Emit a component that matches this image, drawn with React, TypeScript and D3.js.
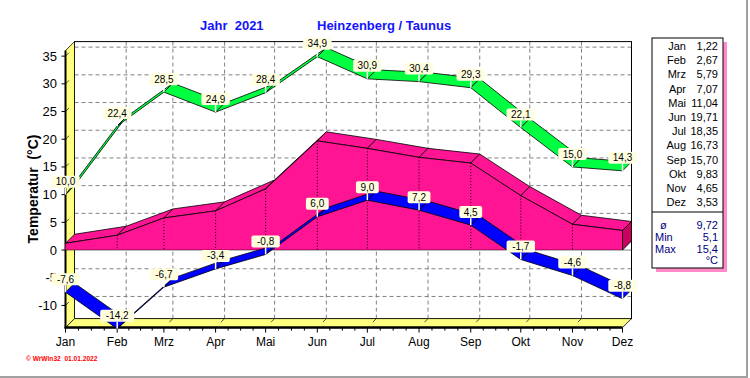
import React, { useEffect } from "react";
import * as d3 from "d3";

const MONTHS = ["Jan", "Feb", "Mrz", "Apr", "Mai", "Jun", "Jul", "Aug", "Sep", "Okt", "Nov", "Dez"];
const MONTH_DAY = [0, 31, 59, 90, 120, 151, 181, 212, 243, 273, 304, 334];
const MAX_T = [10.0, 22.4, 28.5, 24.9, 28.4, 34.9, 30.9, 30.4, 29.3, 22.1, 15.0, 14.3];
const MIN_T = [-7.6, -14.2, -6.7, -3.4, -0.8, 6.0, 9.0, 7.2, 4.5, -1.7, -4.6, -8.8];
const MEAN_T = [1.22, 2.67, 5.79, 7.07, 11.04, 19.71, 18.35, 16.73, 15.7, 9.83, 4.65, 3.53];
const Y_TICKS = [-10, -5, 0, 5, 10, 15, 20, 25, 30, 35];
const STAT_LABELS = ["ø", "Min", "Max"];
const STAT_VALUES = ["9,72", "5,1", "15,4"];

const DX = 9;
const DY = -9;

const fmt1 = (v: number) => v.toFixed(1).replace(".", ",");
const fmt2 = (v: number) => v.toFixed(2).replace(".", ",");

export default function App() {
  useEffect(() => {
    document.body.style.margin = "0";
  }, []);

  const x = d3.scaleLinear().domain([0, 334]).range([65.5, 622.5]);
  const y = d3.scaleLinear().domain([-14, 36]).range([327.6, 50.6]);

  const xl = x.range()[0];
  const xr = x.range()[1];
  const yb = y(-14);
  const yt = y(36);

  const pts = (vals: number[]) => vals.map((v, i) => [x(MONTH_DAY[i]), y(v)] as [number, number]);
  const poly = (p: [number, number][]) => p.map((q) => q.join(",")).join(" ");

  const ribbon = (vals: number[], fill: string, key: string) => {
    const p = pts(vals);
    const quads = [];
    for (let i = 0; i < p.length - 1; i++) {
      const a = p[i], b = p[i + 1];
      quads.push(
        <polygon
          key={key + i}
          points={poly([a, b, [b[0] + DX, b[1] + DY], [a[0] + DX, a[1] + DY]])}
          fill={fill}
          stroke="#000"
          strokeWidth={0.8}
          strokeLinejoin="round"
        />
      );
    }
    return <g>{quads}</g>;
  };

  // pink mean area
  const mp = pts(MEAN_T);
  const y0 = y(0);
  const meanTop = [];
  for (let i = 0; i < mp.length - 1; i++) {
    const a = mp[i], b = mp[i + 1];
    meanTop.push(
      <polygon
        key={"mt" + i}
        points={poly([a, b, [b[0] + DX, b[1] + DY], [a[0] + DX, a[1] + DY]])}
        fill="#ff1493"
        stroke="#000"
        strokeWidth={0.8}
      />
    );
  }
  const last = mp[mp.length - 1];
  const meanFront: [number, number][] = [...mp, [last[0], y0], [mp[0][0], y0]];
  const meanCap: [number, number][] = [
    last,
    [last[0] + DX, last[1] + DY],
    [last[0] + DX, y0 + DY],
    [last[0], y0],
  ];

  // minor ticks
  const minorTicks: number[] = [];
  for (let i = 0; i < MONTH_DAY.length - 1; i++) {
    const a = MONTH_DAY[i], b = MONTH_DAY[i + 1];
    for (let k = 1; k < 4; k++) minorTicks.push(a + ((b - a) * k) / 4);
  }

  const labelBox = (v: number, i: number, key: string) => {
    const px = x(MONTH_DAY[i]);
    const py = y(v);
    const t = fmt1(v);
    const w = t.length * 5.6 + 6;
    const h = 12;
    const cy = py - 13;
    return (
      <g key={key}>
        <line x1={px} x2={px} y1={cy + h / 2} y2={py} stroke="#fff" strokeWidth={1.5} />
        <rect x={px - w / 2} y={cy - h / 2} width={w} height={h} rx={2} fill="#ffffe0" />
        <text x={px} y={cy + 3.6} textAnchor="middle" fontSize={10} fill="#000">
          {t}
        </text>
      </g>
    );
  };

  const font = "Arial, 'Liberation Sans', sans-serif";

  return (
    <svg width={750} height={378} style={{ position: "absolute", left: 0, top: 0, display: "block" }} fontFamily={font}>
      <rect x={0} y={0} width={750} height={378} fill="#fff" />
      {/* outer frame */}
      <line x1={747} x2={747} y1={0} y2={377} stroke="#a0a0a0" strokeWidth={2} />
      <line x1={0} x2={748} y1={377} y2={377} stroke="#a0a0a0" strokeWidth={2} />

      {/* title */}
      <text x={200} y={30} fontSize={13} fontWeight="bold" fill="#1414ff" style={{ whiteSpace: "pre" }}>
        Jahr  2021
      </text>
      <text x={317} y={30} fontSize={13} fontWeight="bold" fill="#1414ff">
        Heinzenberg / Taunus
      </text>

      {/* y axis title */}
      <text
        transform={`translate(38,189) rotate(-90)`}
        textAnchor="middle"
        fontSize={14}
        fontWeight="bold"
        fill="#000"
        style={{ whiteSpace: "pre" }}
      >
        Temperatur  (°C)
      </text>

      {/* back wall */}
      <rect x={xl + DX} y={yt + DY} width={xr - xl} height={yb - yt} fill="#fff" />
      {Y_TICKS.map((v) => (
        <line key={"hg" + v} x1={xl + DX} x2={xr + DX} y1={y(v) + DY} y2={y(v) + DY} stroke="#808080" strokeDasharray="4,3" strokeWidth={1} />
      ))}
      {MONTH_DAY.slice(1, -1).map((d) => (
        <line key={"vg" + d} x1={x(d) + DX} x2={x(d) + DX} y1={yt + DY} y2={yb + DY} stroke="#808080" strokeDasharray="4,3" strokeWidth={1} />
      ))}
      <rect x={xl + DX} y={yt + DY} width={xr - xl} height={yb - yt} fill="none" stroke="#000" strokeWidth={1} />

      {/* left wall */}
      <polygon points={poly([[xl, yt], [xl + DX, yt + DY], [xl + DX, yb + DY], [xl, yb]])} fill="#ffff80" stroke="#000" strokeWidth={0.8} />
      {Y_TICKS.map((v) => (
        <line key={"lw" + v} x1={xl} x2={xl + 3.5} y1={y(v)} y2={y(v) - 3.5} stroke="#505050" strokeWidth={1} />
      ))}
      {/* floor */}
      <polygon points={poly([[xl, yb], [xr, yb], [xr + DX, yb + DY], [xl + DX, yb + DY]])} fill="#ffff80" stroke="#000" strokeWidth={0.8} />
      {MONTH_DAY.slice(1, -1).map((d) => (
        <line key={"fl" + d} x1={x(d) + DX} x2={x(d) + DX - 3.5} y1={yb + DY} y2={yb + DY + 3.5} stroke="#505050" strokeWidth={1} />
      ))}

      {/* front axes */}
      <line x1={xl} x2={xl} y1={yt} y2={yb + 1} stroke="#000" strokeWidth={2} />
      <line x1={xl - 1} x2={xr} y1={yb} y2={yb} stroke="#000" strokeWidth={2.5} />
      {Y_TICKS.map((v) => (
        <g key={"yt" + v}>
          <line x1={xl - 4} x2={xl} y1={y(v)} y2={y(v)} stroke="#000" strokeWidth={1} />
          <text x={57} y={y(v) + 4.5} textAnchor="end" fontSize={13} fill="#000">
            {v}
          </text>
        </g>
      ))}
      {MONTH_DAY.map((d, i) => (
        <g key={"xt" + d}>
          <line x1={x(d)} x2={x(d)} y1={yb} y2={yb + 5} stroke="#000" strokeWidth={1} />
          <text x={x(d)} y={346} textAnchor="middle" fontSize={12} fill="#000">
            {MONTHS[i]}
          </text>
        </g>
      ))}
      {minorTicks.map((d, i) => (
        <line key={"mt" + i} x1={x(d)} x2={x(d)} y1={yb} y2={yb + 3} stroke="#000" strokeWidth={1} />
      ))}

      {/* mean area */}
      <g>{meanTop}</g>
      <polygon points={poly(meanFront)} fill="#ff1493" />
      <polygon points={poly(meanCap)} fill="#c8005e" stroke="#000" strokeWidth={0.8} />
      <polyline points={poly(mp)} fill="none" stroke="#000" strokeWidth={0.8} />
      {mp.slice(1, -1).map((p, i) => (
        <line key={"mv" + i} x1={p[0]} x2={p[0]} y1={p[1]} y2={y0} stroke="#000" strokeWidth={1} strokeDasharray="1,2" />
      ))}
      <line x1={last[0]} x2={last[0]} y1={last[1]} y2={y0} stroke="#000" strokeWidth={1} strokeDasharray="1,2" />
      <line x1={mp[0][0]} x2={last[0] + DX} y1={y0} y2={y0} stroke="#000" strokeWidth={1} strokeDasharray="1,1" />

      {/* max ribbon */}
      {ribbon(MAX_T, "#00ff40", "mx")}
      {/* min ribbon */}
      {ribbon(MIN_T, "#0000ff", "mn")}

      {/* labels */}
      {MAX_T.map((v, i) => labelBox(v, i, "lx" + i))}
      {MIN_T.map((v, i) => labelBox(v, i, "ln" + i))}

      {/* legend */}
      <rect x={656} y={42} width={71} height={230} fill="#ff8cc8" />
      <rect x={652} y={38} width={71} height={230} fill="#fff" stroke="#000" strokeWidth={1} />
      <line x1={652} x2={723} y1={212} y2={212} stroke="#000" strokeWidth={1} />
      {MONTHS.map((m, i) => (
        <g key={"lg" + m}>
          <text x={686} y={50} textAnchor="end" fontSize={11} fill="#000" transform={`translate(0,${i * 14.2})`}>
            {m}
          </text>
          <text x={718} y={50} textAnchor="end" fontSize={11} fill="#000" transform={`translate(0,${i * 14.2})`}>
            {fmt2(MEAN_T[i])}
          </text>
        </g>
      ))}
      {STAT_LABELS.map((s, i) => (
        <g key={"st" + s}>
          <text x={i === 0 ? 660 : 655} y={229 + i * 11.8} fontSize={11} fill="#000080">
            {s}
          </text>
          <text x={718} y={229 + i * 11.8} textAnchor="end" fontSize={11} fill="#000080">
            {STAT_VALUES[i]}
          </text>
        </g>
      ))}
      <text x={718} y={264} textAnchor="end" fontSize={11} fill="#000080">
        °C
      </text>

      {/* watermark */}
      <text x={26} y={361} fontSize={6.6} fontWeight="bold" fill="#ff0000" style={{ whiteSpace: "pre" }}>
        © WrWin32  01.01.2022
      </text>
    </svg>
  );
}
